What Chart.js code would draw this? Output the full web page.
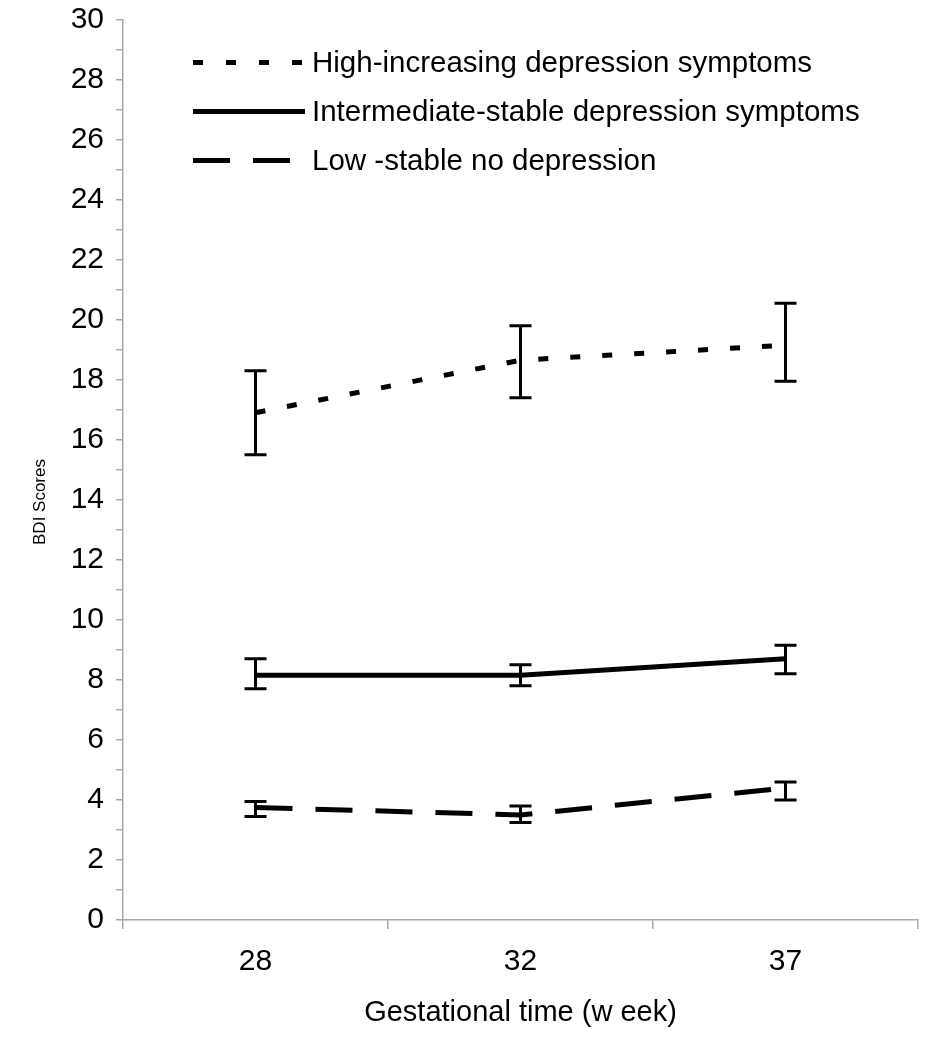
<!DOCTYPE html>
<html>
<head>
<meta charset="utf-8">
<title>BDI Scores by gestational week</title>
<script src="https://cdn.jsdelivr.net/npm/chart.js"></script>
<style>
  body { margin: 0; background: #fff; }
  #wrap { width: 925px; height: 1050px; position: relative; }
</style>
</head>
<body>
<div id="wrap"><canvas id="chart"></canvas></div>
<script>
// categories
const weeks = ['28', '32', '37'];
const seriesNames = [
  'High-increasing depression symptoms',
  'Intermediate-stable depression symptoms',
  'Low -stable no depression'
];

// mean BDI scores and error bar ends
const highMean = [16.9, 18.65, 19.15];
const highLower = [15.5, 17.4, 17.95];
const highUpper = [18.3, 19.8, 20.55];

const midMean = [8.15, 8.15, 8.7];
const midLower = [7.7, 7.8, 8.2];
const midUpper = [8.7, 8.5, 9.15];

const lowMean = [3.75, 3.5, 4.4];
const lowLower = [3.45, 3.25, 4.0];
const lowUpper = [3.95, 3.8, 4.6];

// y axis
const yMin = 0, yMax = 30, yLabelStep = 2;

const FONT = 'Arial, "Liberation Sans", sans-serif';

// error bars drawn from the y scale
const errorBars = {
  id: 'errorBars',
  afterDatasetsDraw(chart) {
    const ctx = chart.ctx;
    const y = chart.scales.y;
    ctx.save();
    ctx.strokeStyle = '#000';
    ctx.lineWidth = 3;
    chart.data.datasets.forEach((ds, i) => {
      const meta = chart.getDatasetMeta(i);
      meta.data.forEach((pt, j) => {
        const top = y.getPixelForValue(ds.errUpper[j]);
        const bot = y.getPixelForValue(ds.errLower[j]);
        ctx.beginPath();
        ctx.moveTo(pt.x, top); ctx.lineTo(pt.x, bot);
        ctx.moveTo(pt.x - 11, top); ctx.lineTo(pt.x + 11, top);
        ctx.moveTo(pt.x - 11, bot); ctx.lineTo(pt.x + 11, bot);
        ctx.stroke();
      });
    });
    ctx.restore();
  }
};

// legend inside the plot, top left, and the y axis title
const insideLegend = {
  id: 'insideLegend',
  afterDraw(chart) {
    const ctx = chart.ctx;
    const area = chart.chartArea;
    ctx.save();
    chart.data.datasets.forEach((ds, i) => {
      const rowY = area.top + 43 + i * 49;
      const x0 = area.left + 70;
      ctx.beginPath();
      ctx.setLineDash(ds.legendDash);
      ctx.lineWidth = 5;
      ctx.strokeStyle = '#000';
      ctx.moveTo(x0, rowY);
      ctx.lineTo(x0 + 112, rowY);
      ctx.stroke();
      ctx.setLineDash([]);
      ctx.fillStyle = '#000';
      ctx.font = '29.5px ' + FONT;
      ctx.textBaseline = 'middle';
      ctx.fillText(ds.label, x0 + 119, rowY + 1);
    });
    // y axis title
    ctx.translate(40, 502);
    ctx.rotate(-Math.PI / 2);
    ctx.font = '17px ' + FONT;
    ctx.textAlign = 'center';
    ctx.textBaseline = 'middle';
    ctx.fillText('BDI Scores', 0, 0);
    ctx.restore();
  }
};

const lineStyle = { borderColor: '#000', borderWidth: 5, pointRadius: 0, fill: false, tension: 0 };

new Chart(document.getElementById('chart'), {
  type: 'line',
  data: {
    labels: weeks,
    datasets: [
      Object.assign({ label: seriesNames[0], data: highMean, errLower: highLower, errUpper: highUpper,
        borderDash: [10, 22], legendDash: [10, 23] }, lineStyle),
      Object.assign({ label: seriesNames[1], data: midMean, errLower: midLower, errUpper: midUpper,
        borderDash: [], legendDash: [] }, lineStyle),
      Object.assign({ label: seriesNames[2], data: lowMean, errLower: lowLower, errUpper: lowUpper,
        borderDash: [37, 23], legendDash: [37, 23] }, lineStyle)
    ]
  },
  options: {
    responsive: true,
    maintainAspectRatio: false,
    animation: false,
    layout: { padding: { top: 19, right: 7, left: 0, bottom: 0 } },
    plugins: {
      legend: { display: false },
      tooltip: { enabled: false }
    },
    scales: {
      x: {
        type: 'category',
        offset: true,
        afterFit(scale) { scale.height = 130; },
        grid: { offset: true, drawOnChartArea: false, tickLength: 9, color: '#a8a8a8', lineWidth: 1.5 },
        border: { color: '#a8a8a8', width: 1.5 },
        ticks: { color: '#000', padding: 15, font: { family: FONT, size: 30 } },
        title: { display: true, text: 'Gestational time (w eek)', color: '#000',
          font: { family: FONT, size: 29 }, padding: { top: 0, bottom: 20 } }
      },
      y: {
        min: yMin,
        max: yMax,
        afterFit(scale) { scale.width = 123; },
        grid: { drawOnChartArea: false, tickLength: 7, color: '#a8a8a8', lineWidth: 1.5 },
        border: { color: '#a8a8a8', width: 1.5 },
        ticks: {
          stepSize: 1,
          color: '#000',
          padding: 12,
          font: { family: FONT, size: 30, lineHeight: 0.5 },
          callback: v => (v % yLabelStep === 0 ? String(v) : '')
        }
      }
    }
  },
  plugins: [errorBars, insideLegend]
});
</script>
</body>
</html>
